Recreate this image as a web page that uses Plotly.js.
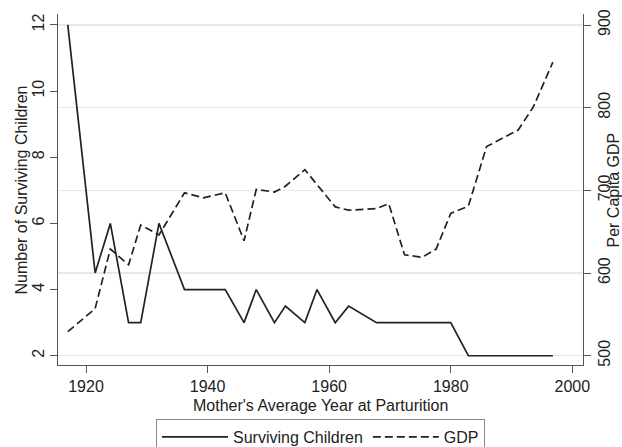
<!DOCTYPE html>
<html>
<head>
<meta charset="utf-8">
<script src="https://cdn.plot.ly/plotly-3.0.1.min.js"></script>
<style>
  html, body { margin: 0; padding: 0; background: #ffffff; }
  #chart { width: 622px; height: 447px; }
</style>
</head>
<body>
<div id="chart"></div>
<script>
// Mother's average year at parturition
var years = [1917.0, 1921.5, 1924.0, 1927.0, 1929.0, 1932.0, 1936.2, 1939.3, 1942.9, 1946.0,
             1948.0, 1951.0, 1952.8, 1956.0, 1958.0, 1961.0, 1963.2, 1967.8, 1969.8, 1972.4,
             1975.3, 1977.6, 1980.0, 1982.9, 1985.9, 1988.6, 1991.1, 1993.6, 1996.8];
// Number of surviving children
var children = [12, 4.5, 6, 3, 3, 6, 4, 4, 4, 3,
                4, 3, 3.5, 3, 4, 3, 3.5, 3, 3, 3,
                3, 3, 3, 2, 2, 2, 2, 2, 2];
// Per capita GDP
var gdp = [529, 557, 629, 610, 658, 646, 697, 691, 697, 639,
           701, 698, 705, 725, 707, 680, 676, 678, 684, 622,
           619, 629, 672, 681, 753, 763, 773, 801, 855];

var xTicks = [1920, 1940, 1960, 1980, 2000];
var childTicks = [2, 4, 6, 8, 10, 12];
var gdpTicks = [500, 600, 700, 800, 900];

var seriesNames = ['Surviving Children', 'GDP'];
var xTitle = "Mother's Average Year at Parturition";
var yTitle = 'Number of Surviving Children';
var y2Title = 'Per Capita GDP';

var FONT = 'Liberation Sans, Arial, Helvetica, sans-serif';
var TXT = '#222222';
var AX = '#555555';

var traces = [
  {
    x: years, y: children, name: seriesNames[0], type: 'scatter', mode: 'lines',
    yaxis: 'y',
    line: { color: '#222222', width: 1.7 },
    hoverinfo: 'skip'
  },
  {
    x: years, y: gdp, name: seriesNames[1], type: 'scatter', mode: 'lines',
    yaxis: 'y2',
    line: { color: '#222222', width: 1.7, dash: '8px,4px' },
    hoverinfo: 'skip'
  }
];

var axisCommon = {
  ticks: 'outside', ticklen: 7, tickwidth: 1, tickcolor: AX,
  showline: true, linecolor: AX, linewidth: 1,
  zeroline: false, fixedrange: true, automargin: false,
  tickfont: { family: FONT, size: 16, color: TXT }
};

var layout = {
  width: 622, height: 447,
  margin: { l: 58, r: 39, t: 14, b: 82, pad: 0, autoexpand: false },
  paper_bgcolor: '#ffffff', plot_bgcolor: '#ffffff',
  font: { family: FONT, size: 16, color: TXT },
  showlegend: true,
  xaxis: Object.assign({}, axisCommon, {
    range: [1915.39, 2001.76], tickmode: 'array', tickvals: xTicks,
    ticktext: xTicks.map(String), showgrid: false, ticklabelstandoff: 0
  }),
  yaxis: Object.assign({}, axisCommon, {
    range: [1.72, 12.33], tickmode: 'array', tickvals: childTicks,
    ticktext: childTicks.map(String), tickangle: -90, showgrid: false
  }),
  yaxis2: Object.assign({}, axisCommon, {
    overlaying: 'y', side: 'right',
    range: [488.75, 913.3], tickmode: 'array', tickvals: gdpTicks,
    ticktext: gdpTicks.map(String), tickangle: -90,
    showgrid: true, gridcolor: '#e8e8e8', gridwidth: 1.5
  }),
  legend: {
    orientation: 'h', x: 0.5, xanchor: 'center', y: -0.1538, yanchor: 'top',
    bordercolor: '#888888', borderwidth: 1, bgcolor: '#ffffff',
    font: { family: FONT, size: 16, color: TXT },
    itemwidth: 66
  },
  annotations: [
    { text: xTitle, xref: 'paper', yref: 'paper', x: 0.5, y: -0.1150,
      xanchor: 'center', yanchor: 'middle', showarrow: false,
      font: { family: FONT, size: 16, color: TXT } },
    { text: yTitle, xref: 'paper', yref: 'paper', x: -0.0686, y: 0.5,
      xanchor: 'center', yanchor: 'middle', showarrow: false, textangle: -90,
      font: { family: FONT, size: 16, color: TXT } },
    { text: y2Title, xref: 'paper', yref: 'paper', x: 1.0590, y: 0.5,
      xanchor: 'center', yanchor: 'middle', showarrow: false, textangle: -90,
      font: { family: FONT, size: 16, color: TXT } }
  ]
};

Plotly.newPlot('chart', traces, layout, { displayModeBar: false, staticPlot: true });
</script>
</body>
</html>
